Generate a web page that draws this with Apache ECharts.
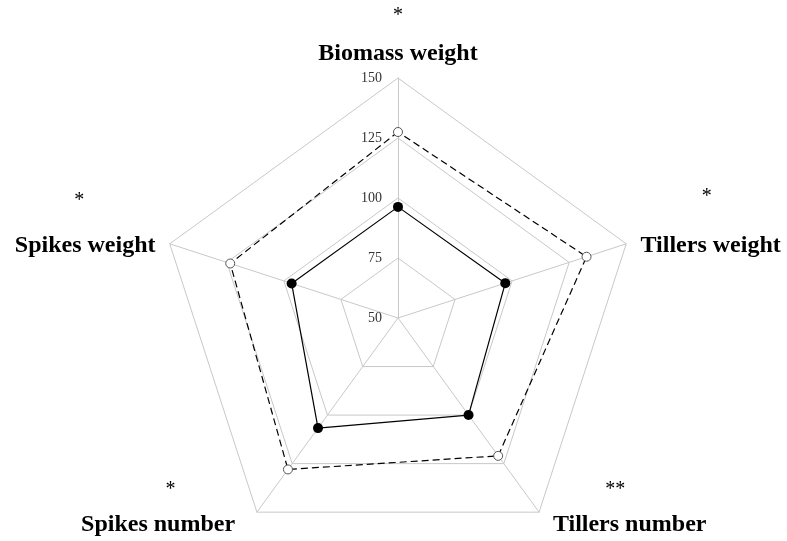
<!DOCTYPE html>
<html><head><meta charset="utf-8">
<script src="https://cdn.jsdelivr.net/npm/echarts@6/dist/echarts.min.js"></script>
<style>html,body{margin:0;padding:0;background:#fff}#c{width:787px;height:541px}</style>
</head><body><div id="c"></div>
<script>
// Indicators in ECharts order (counter-clockwise from top)
var indicators = ['Biomass weight', 'Spikes weight', 'Spikes number', 'Tillers number', 'Tillers weight'];
var stars = ['*', '*', '*', '**', '*'];
var solidValues = [96.3, 96.6, 106.7, 100, 97];
var dashedValues = [127.5, 123.5, 128, 121, 132.6];
var axisMin = 50, axisMax = 150;

// per-indicator label layout tweaks
var starLH = [58, 62, 42, 42, 70];
var padLH = [0, 48, 42, 42, 56];
var nameLH = [18, 28, 28, 28, 28];
var starPad = [0, -12, 12, -24, -8];
var namePad = [[0, 0, 0, 0], [0, 0, 0, 0], [0, 13, 0, 0], [0, 0, 0, 5], [0, 0, 0, 0]];

var rich = {};
indicators.forEach(function (nm, i) {
  var pad = starPad[i];
  rich['n' + i] = {fontFamily: 'Liberation Serif', fontWeight: 'bold', fontSize: 24, lineHeight: nameLH[i], color: '#000', padding: namePad[i]};
  rich['s' + i] = {fontFamily: 'Liberation Serif', fontSize: 20, lineHeight: starLH[i], color: '#000', align: 'center',
    padding: pad >= 0 ? [0, 0, 0, pad] : [0, -pad, 0, 0]};
  rich['p' + i] = {fontSize: 20, lineHeight: padLH[i]};
});

var chart = echarts.init(document.getElementById('c'));
chart.setOption({
  animation: false,
  radar: {
    center: [398, 318],
    radius: 240,
    shape: 'polygon',
    startAngle: 90,
    splitNumber: 4,
    nameGap: 15,
    indicator: indicators.map(function (nm, i) {
      var o = {name: nm, min: axisMin, max: axisMax};
      if (i === 0) o.axisLabel = {show: true};
      return o;
    }),
    axisName: {
      rich: rich,
      formatter: function (name) {
        var i = indicators.indexOf(name);
        if (i === 0) return '{s0|' + stars[0] + '}\n{n0|' + name + '}';
        return '{s' + i + '|' + stars[i] + '}\n{n' + i + '|' + name + '}\n{p' + i + '| }';
      }
    },
    axisLine: {lineStyle: {color: '#c8c8c8', width: 1}},
    splitLine: {lineStyle: {color: '#c8c8c8', width: 1}},
    splitArea: {show: false},
    axisTick: {show: false},
    axisLabel: {show: false, margin: 16, fontFamily: 'Liberation Serif', fontSize: 14, color: '#333'}
  },
  series: [{
    type: 'radar',
    z: 3,
    data: [{
      value: dashedValues,
      symbol: 'circle',
      symbolSize: 9,
      lineStyle: {color: '#000', width: 1.2, type: [7, 4]},
      itemStyle: {color: '#fff', borderColor: '#555', borderWidth: 1}
    }, {
      value: solidValues,
      symbol: 'circle',
      symbolSize: 10,
      lineStyle: {color: '#000', width: 1.2, type: 'solid'},
      itemStyle: {color: '#000'}
    }]
  }]
});
</script></body></html>
